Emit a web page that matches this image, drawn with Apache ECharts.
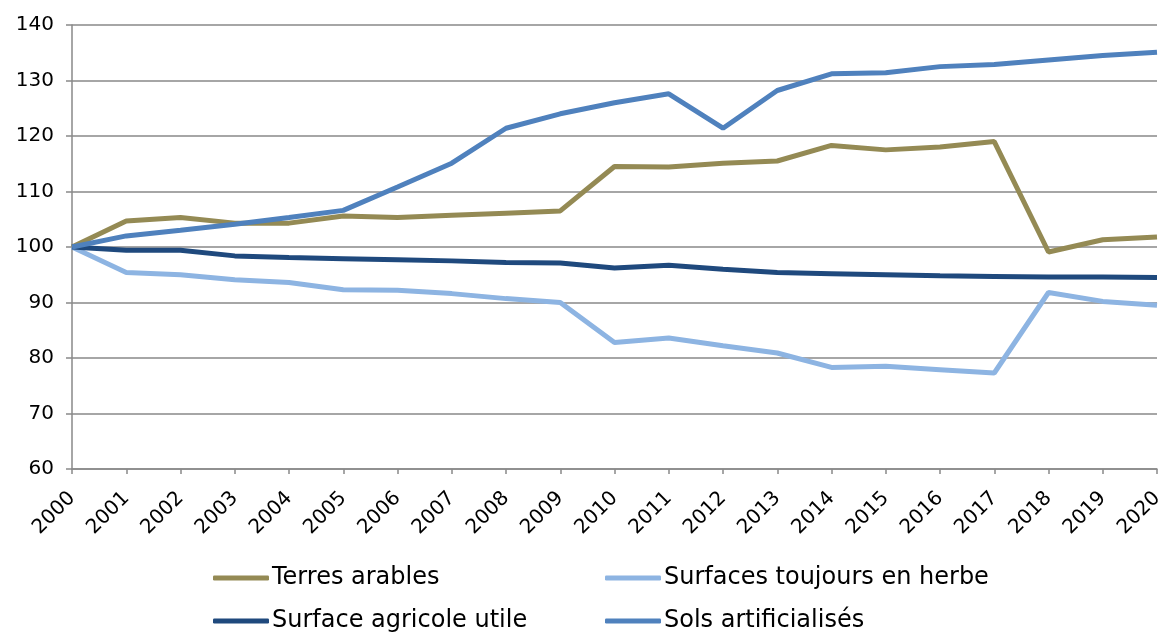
<!DOCTYPE html>
<html>
<head>
<meta charset="utf-8">
<script src="https://cdn.jsdelivr.net/npm/echarts@6/dist/echarts.min.js"></script>
<style>
html,body{margin:0;padding:0;background:#fff;}
#chart{width:1160px;height:635px;}
</style>
</head>
<body>
<div id="chart"></div>
<script>
const years = ['2000','2001','2002','2003','2004','2005','2006','2007','2008','2009','2010','2011','2012','2013','2014','2015','2016','2017','2018','2019','2020'];
const terresArables = [100,104.7,105.3,104.3,104.3,105.6,105.3,105.7,106.1,106.5,114.5,114.4,115.1,115.5,118.3,117.5,118.0,119.0,99.1,101.3,101.8];
const surfacesHerbe = [100,95.4,95.0,94.1,93.6,92.3,92.2,91.6,90.7,90.0,82.8,83.6,82.2,80.9,78.3,78.5,77.9,77.3,91.8,90.2,89.5];
const surfaceAgricole = [100,99.4,99.4,98.4,98.1,97.9,97.7,97.5,97.2,97.1,96.2,96.7,96.0,95.4,95.2,95.0,94.8,94.7,94.6,94.6,94.5];
const solsArtificialises = [100,102.0,103.0,104.1,105.3,106.6,110.8,115.1,121.4,124.0,126.0,127.6,121.4,128.2,131.2,131.4,132.5,132.9,133.7,134.5,135.1];
const yTicks = {min:60, max:140, interval:10};

const FONT = "'DejaVu Sans', Verdana, sans-serif";
const seriesDefs = [
  {name:'Terres arables', data:terresArables, color:'#948A54'},
  {name:'Surfaces toujours en herbe', data:surfacesHerbe, color:'#8DB4E2'},
  {name:'Surface agricole utile', data:surfaceAgricole, color:'#1F497D'},
  {name:'Sols artificialisés', data:solsArtificialises, color:'#4F81BD'}
];
const legendPos = [[213,566],[605,566],[213,609],[605,609]];

const chart = echarts.init(document.getElementById('chart'), null, {renderer:'canvas'});
chart.setOption({
  animation:false,
  backgroundColor:'#fff',
  grid:{left:72, right:3, top:25, bottom:166, containLabel:false, outerBoundsMode:'none'},
  legend: seriesDefs.map((s,i)=>({
    data:[s.name], left:legendPos[i][0], top:legendPos[i][1],
    icon:'roundRect', itemWidth:56, itemHeight:5, itemGap:0,
    textStyle:{fontFamily:FONT, fontSize:24, color:'#000', padding:[0,0,0,-2]},
    padding:0
  })),
  xAxis:{
    type:'category', data:years, boundaryGap:false,
    axisLine:{lineStyle:{color:'#898989', width:1.5}},
    axisTick:{show:true, length:5, lineStyle:{color:'#898989', width:1.5}},
    axisLabel:{rotate:45, fontFamily:FONT, fontSize:20, color:'#000', margin:26, interval:0}
  },
  yAxis:{
    type:'value', min:yTicks.min, max:yTicks.max, interval:yTicks.interval,
    axisLine:{show:true, lineStyle:{color:'#898989', width:1.5}},
    axisTick:{show:true, length:6, lineStyle:{color:'#898989', width:1.5}},
    splitLine:{lineStyle:{color:'#898989', width:1.5}},
    axisLabel:{fontFamily:FONT, fontSize:20, color:'#000', margin:18}
  },
  series: seriesDefs.map(s=>({
    name:s.name, type:'line', data:s.data, showSymbol:false, symbol:'none',
    lineStyle:{color:s.color, width:5}, itemStyle:{color:s.color}
  }))
});
</script>
</body>
</html>
